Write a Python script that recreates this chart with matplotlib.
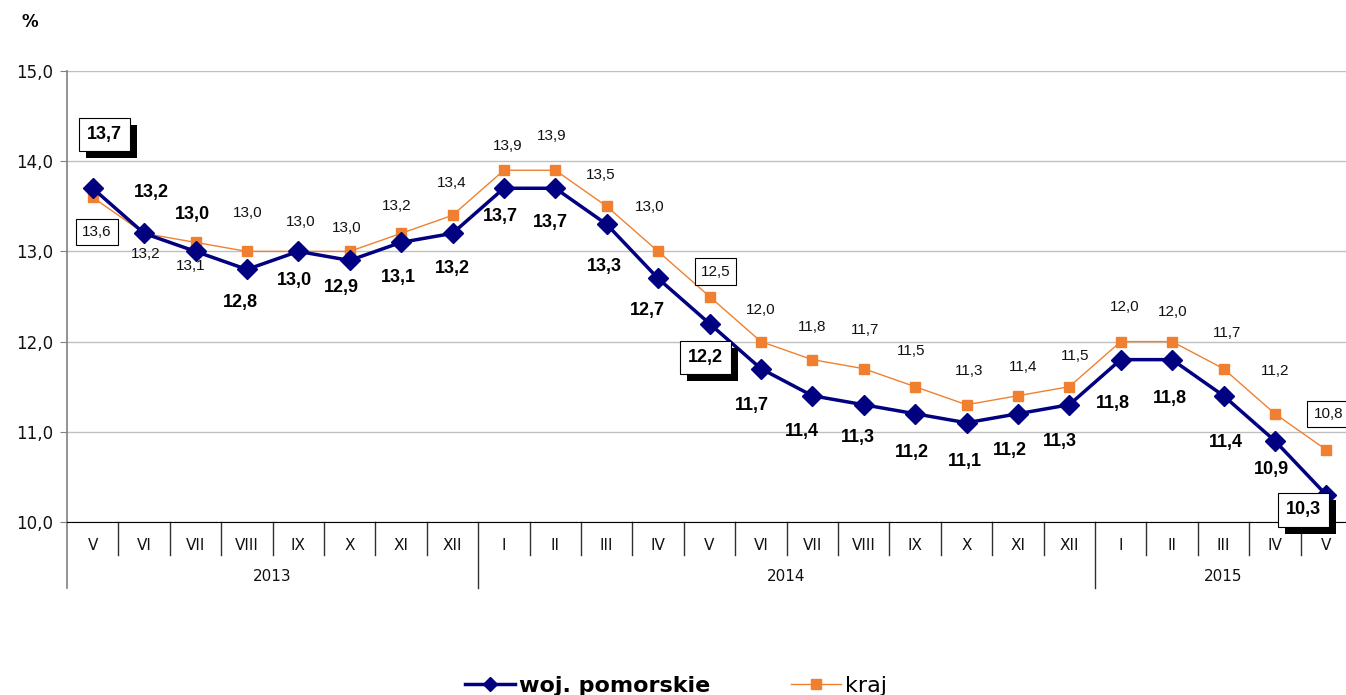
import numpy as np
import matplotlib.pyplot as plt
import matplotlib.patheffects as pe
from matplotlib.lines import Line2D

# data
months = ['V', 'VI', 'VII', 'VIII', 'IX', 'X', 'XI', 'XII',
          'I', 'II', 'III', 'IV', 'V', 'VI', 'VII', 'VIII', 'IX', 'X', 'XI', 'XII',
          'I', 'II', 'III', 'IV', 'V']
years = ['2013', '2014', '2015']
year_len = [8, 12, 5]
pomorskie = [13.7, 13.2, 13.0, 12.8, 13.0, 12.9, 13.1, 13.2,
             13.7, 13.7, 13.3, 12.7, 12.2, 11.7, 11.4, 11.3, 11.2, 11.1, 11.2, 11.3,
             11.8, 11.8, 11.4, 10.9, 10.3]
kraj = [13.6, 13.2, 13.1, 13.0, 13.0, 13.0, 13.2, 13.4,
        13.9, 13.9, 13.5, 13.0, 12.5, 12.0, 11.8, 11.7, 11.5, 11.3, 11.4, 11.5,
        12.0, 12.0, 11.7, 11.2, 10.8]

# label offsets in pixels (dx, dy up)
off_pom = [(12, 54), (7, 41), (-3, 37), (-7, -33), (-4, -29), (-8, -27), (-3, -35), (0, -35),
           (-4, -28), (-5, -34), (-2, -42), (-11, -32), (-4, -34), (-9, -37), (-10, -36),
           (-6, -33), (-3, -39), (-2, -39), (-8, -37), (-9, -37), (-8, -44), (-2, -39),
           (2, -47), (-3, -29), (-23, -15)]
off_kraj = [(4, -35), (2, -21), (-5, -24), (1, 38), (2, 29), (-3, 23), (-4, 27), (-1, 32),
            (4, 24), (-4, 34), (-6, 31), (-8, 44), (6, 25), (0, 32), (0, 33), (1, 39),
            (-4, 36), (3, 34), (5, 29), (6, 31), (4, 35), (1, 30), (4, 36), (0, 43), (2, 36)]
boxed = [0, 12, 24]

navy = '#000080'
orange = '#F08030'

fig = plt.figure(figsize=(13.46, 6.95), dpi=100, facecolor='white')
ax = fig.add_axes([67/1346, 1-522/695, 1285/1346, 451/695])

x = np.arange(len(months)) + 0.5
ax.plot(x, kraj, color=orange, lw=1, marker='s', ms=7, mec=orange, zorder=3)
ax.plot(x, pomorskie, color=navy, lw=2.5, marker='D', ms=10, zorder=4)

ax.set_xlim(0, len(months))
ax.set_ylim(10, 15)
ax.set_yticks(np.arange(10, 15.1, 1))
ax.set_yticklabels([f'{v:.1f}'.replace('.', ',') for v in np.arange(10, 15.1, 1)],
                   fontsize=12, color='#111111')
ax.yaxis.grid(True, color='#c0c0c0', lw=1)
ax.set_axisbelow(True)
ax.tick_params(axis='y', direction='out', length=5, color='#808080', pad=5)
ax.set_xticks([])
for s in ['top', 'right', 'left']:
    ax.spines[s].set_visible(False)
ax.spines['bottom'].set_color('black')

# category axis below
trans = ax.get_xaxis_transform()
bounds = np.cumsum([0] + year_len)
ax.plot([0, 0], [-0.146, 1], color='#808080', lw=1.2, transform=trans, clip_on=False)
for i in range(1, len(months)):
    low = -0.146 if i in bounds else -0.073
    ax.plot([i, i], [low, 0], color='#303030', lw=1, transform=trans, clip_on=False)
for i, m in enumerate(months):
    ax.text(i + 0.5, -0.051, m, transform=trans, ha='center', va='center',
            fontsize=11, color='#111111')
for j, yr in enumerate(years):
    ax.text((bounds[j] + bounds[j+1]) / 2, -0.12, yr, transform=trans, ha='center',
            va='center', fontsize=11, color='#111111')

# data labels
for i, v in enumerate(pomorskie):
    t = ax.annotate(f'{v:.1f}'.replace('.', ','), (x[i], v), xytext=off_pom[i],
                    textcoords='offset pixels', ha='center', va='center',
                    fontsize=13, fontweight='bold', family='Liberation Sans', zorder=6)
    if i in boxed:
        t.set_bbox(dict(boxstyle='square,pad=0.45', fc='white', ec='black', lw=0.8))
        t.get_bbox_patch().set_path_effects(
            [pe.SimplePatchShadow(offset=(5, -5), shadow_rgbFace='black', alpha=1), pe.Normal()])
for i, v in enumerate(kraj):
    t = ax.annotate(f'{v:.1f}'.replace('.', ','), (x[i], v), xytext=off_kraj[i],
                    textcoords='offset pixels', ha='center', va='center',
                    fontsize=11, family='Liberation Sans', color='#111111', zorder=5)
    if i in boxed:
        t.set_bbox(dict(boxstyle='square,pad=0.4', fc='white', ec='black', lw=0.8))

fig.text(30/1346, 1-22/695, '%', fontsize=12, fontweight='bold', ha='center', va='center')

handles = [Line2D([], [], color=navy, lw=2.5, marker='D', ms=7),
           Line2D([], [], color=orange, lw=1, marker='s', ms=7)]
leg = fig.legend(handles, ['woj. pomorskie', 'kraj'], loc='center',
                 bbox_to_anchor=(676/1346, 1-686/695), ncol=2, frameon=False,
                 handlelength=2.25, handletextpad=0.2, columnspacing=3.6,
                 prop={'family': 'DejaVu Sans', 'size': 16})
leg.get_texts()[0].set_fontweight('bold')

fig.savefig('out.png', dpi=100)
